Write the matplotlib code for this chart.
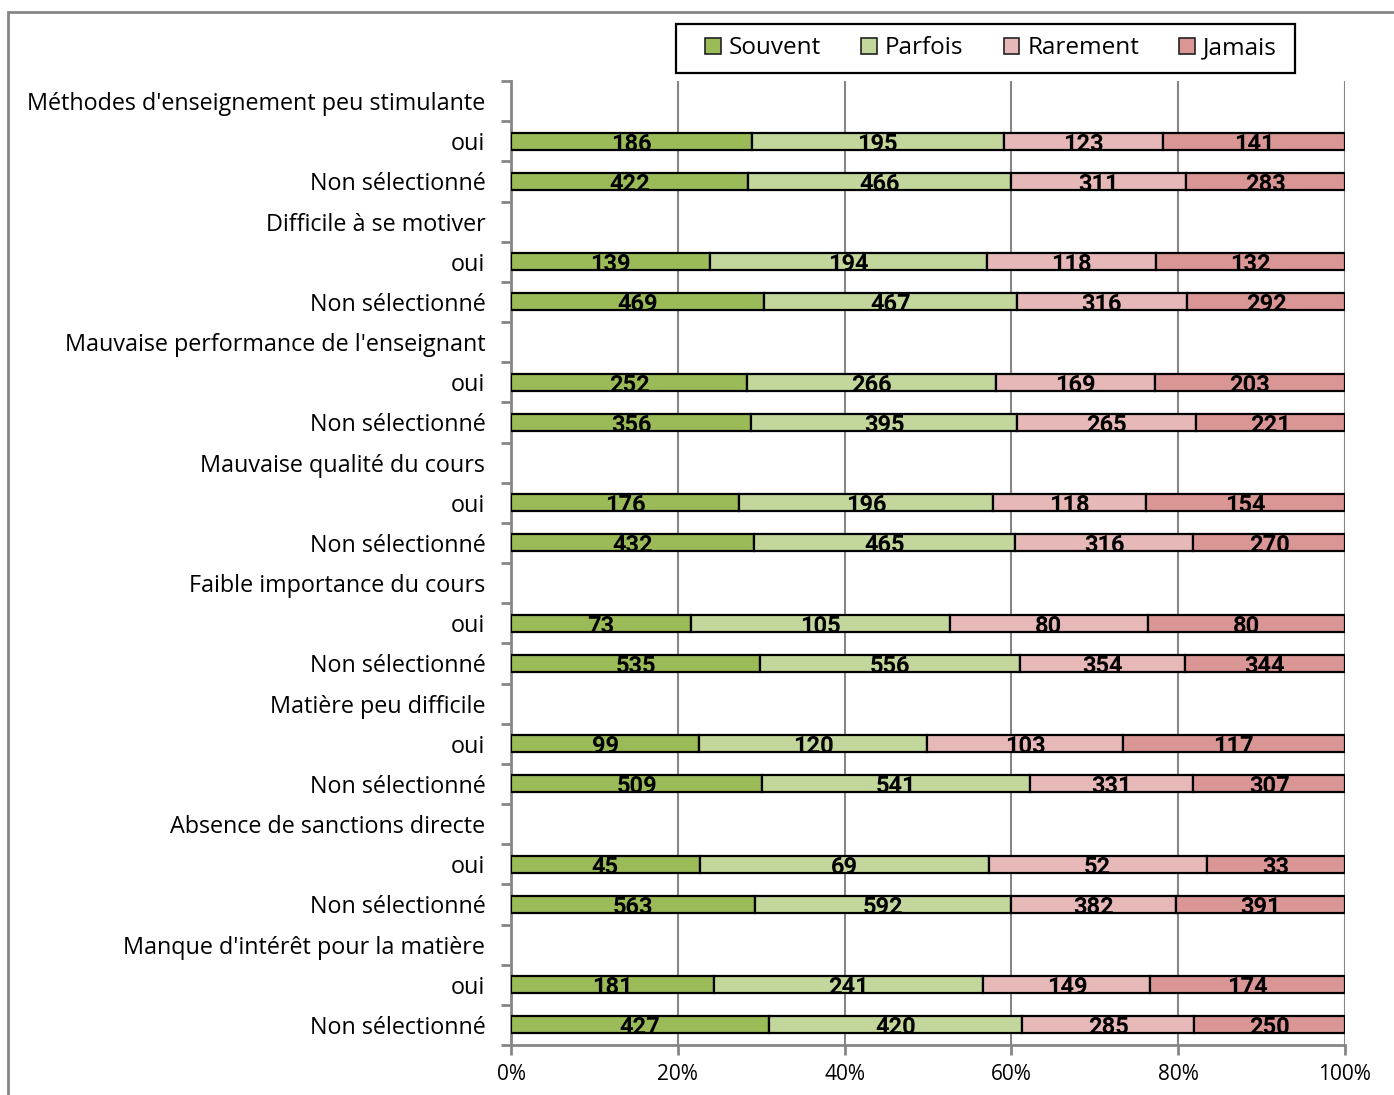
import numpy as np
import matplotlib.pyplot as plt
from matplotlib.patches import Patch, Rectangle

groups = ["Méthodes d'enseignement peu stimulante", "Difficile à se motiver",
          "Mauvaise performance de l'enseignant", "Mauvaise qualité du cours",
          "Faible importance du cours", "Matière peu difficile",
          "Absence de sanctions directe", "Manque d'intérêt pour la matière"]
answers = ["oui", "Non sélectionné"]

# counts per row (oui, Non sélectionné for each group)
souvent  = [186, 422, 139, 469, 252, 356, 176, 432, 73, 535, 99, 509, 45, 563, 181, 427]
parfois  = [195, 466, 194, 467, 266, 395, 196, 465, 105, 556, 120, 541, 69, 592, 241, 420]
rarement = [123, 311, 118, 316, 169, 265, 118, 316, 80, 354, 103, 331, 52, 382, 149, 285]
jamais   = [141, 283, 132, 292, 203, 221, 154, 270, 80, 344, 117, 307, 33, 391, 174, 250]

series = ["Souvent", "Parfois", "Rarement", "Jamais"]
colors = ["#9BBB59", "#C3D69B", "#E6B9B8", "#D99694"]

txt_font = "Open Sans"
num_font = dict(family="Roboto", weight="bold", size=17)

# row labels: group header, then its two answers
labels = []
for g in groups:
    labels += [g] + answers
nrows = len(labels)

# row index of every bar
bar_rows = []
for i in range(len(groups)):
    bar_rows += [3 * i + 1, 3 * i + 2]

data = np.array([souvent, parfois, rarement, jamais], dtype=float)
shares = data / data.sum(axis=0)

W, H = 1394, 1095
fig = plt.figure(figsize=(W / 100, H / 100), dpi=100)
ax = fig.add_axes([511 / W, 1 - 1045 / H, 834 / W, 964 / H])

left = np.zeros(len(bar_rows))
for k in range(4):
    ax.barh(bar_rows, shares[k], left=left, height=0.42, color=colors[k],
            edgecolor="black", linewidth=1.6, zorder=3)
    for r, l, w, n in zip(bar_rows, left, shares[k], data[k]):
        ax.text(l + w / 2, r + 0.07, "%d" % n, ha="center", va="center",
                zorder=4, **num_font)
    left += shares[k]

ax.set_xlim(0, 1)
ax.set_ylim(nrows - 0.5, -0.5)
ax.set_xticks(np.linspace(0, 1, 6))
ax.set_xticklabels(["%d%%" % v for v in range(0, 101, 20)],
                   family=txt_font, fontsize=15)
ax.set_yticks(range(nrows))
ax.set_yticklabels(labels, family=txt_font, fontsize=16.8)
ax.set_yticks(np.arange(-0.5, nrows, 1), minor=True)
ax.tick_params(axis="y", which="major", length=0, pad=18.5)
ax.tick_params(axis="y", which="minor", length=7, width=2, color="#868686")
ax.tick_params(axis="x", length=7, width=2, color="#868686", pad=7)

ax.grid(axis="x", color="#868686", linewidth=1.5, zorder=0)
for s in ["top", "right"]:
    ax.spines[s].set_visible(False)
for s in ["left", "bottom"]:
    ax.spines[s].set_color("#868686")
    ax.spines[s].set_linewidth(2)

# legend entries, with its box drawn separately
handles = [Patch(facecolor=c, edgecolor="#222222", linewidth=1.2) for c in colors]
fig.legend(handles, series, ncol=4, loc="center",
           bbox_to_anchor=(991 / W, 1 - 48.5 / H),
           prop=dict(family=txt_font, size=17.5), frameon=False,
           handlelength=0.65, handleheight=0.65, handletextpad=0.33,
           columnspacing=1.65, borderpad=0.3, borderaxespad=0)
fig.add_artist(Rectangle((676 / W, 1 - 73 / H), 619 / W, 49 / H,
                         transform=fig.transFigure, fill=False,
                         edgecolor="black", linewidth=1.6))

# outer chart frame
fig.add_artist(Rectangle((8 / W, -0.05), 1.2, 1.05 - 12 / H,
                         transform=fig.transFigure, fill=False,
                         edgecolor="#868686", linewidth=2, clip_on=False))

fig.savefig("out.png", dpi=100)
